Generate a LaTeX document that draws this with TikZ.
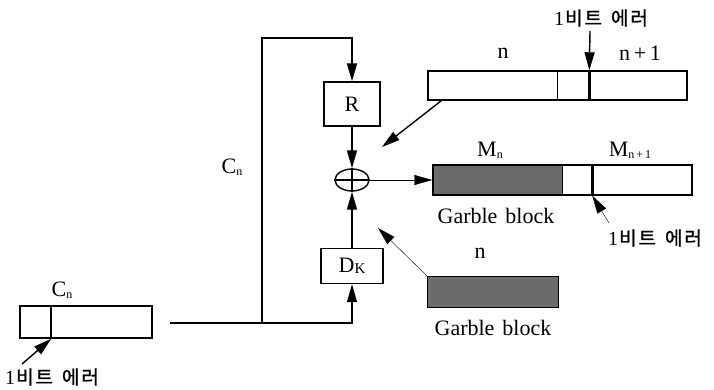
\documentclass[tikz,border=0pt]{standalone}
\usepackage{fontspec}
\setmainfont{Liberation Serif}
\newfontfamily\kr[LetterSpace=10,FakeBold=1.2]{Noto Sans CJK KR}
\usetikzlibrary{arrows.meta,shapes.geometric,backgrounds}
\newcommand\sbn[1]{\raisebox{-2pt}{\fontsize{12}{13}\selectfont #1}}
\newcommand\errtxt{{\rmfamily\fontsize{20}{22}\selectfont 1}\kern1pt 비트\hspace{9pt}에러}
\begin{document}
\begin{tikzpicture}[x=1pt,y=-1pt,
  line width=1.4pt,
  arr/.style={-{Triangle[length=18pt,width=10pt]}},
  box/.style={draw,rectangle,inner sep=0pt,font=\fontsize{22}{26}\selectfont},
  lbl/.style={inner sep=0pt,font=\fontsize{22}{26}\selectfont},
  krl/.style={inner sep=0pt,font=\fontsize{19}{22}\kr},
  garble/.style={fill=black!58},
  errline/.style={line width=2.8pt}
]
\useasboundingbox (0,0) rectangle (714,390);

% --- received ciphertext block C_n (bottom left)
\node[box,minimum width=132pt,minimum height=32pt] (cn) at (86,322) {};
\draw[line width=1.8pt] ([xshift=32pt]cn.north west) -- ([xshift=32pt]cn.south west);
\node[lbl] (cnl) at (62,290) {C\sbn{n}};
\node[krl] (e1) at (52,377) {\errtxt};
\coordinate (e1t) at (22,364);
\draw[arr] (e1t) -- ([xshift=32pt]cn.south west);

% --- feedback wiring
\coordinate (ls) at (170,323);
\coordinate (sp) at (262,323);
\coordinate (tp) at (262,38);
\node[lbl] (cnv) at (232,167) {C\sbn{n}};

\node[box,minimum width=56pt,minimum height=44pt] (r) at (352,104) {R};
\node[box,minimum width=62pt,minimum height=35pt] (dk) at (352,266) {D\raisebox{-1pt}{\fontsize{15}{17}\selectfont K}};
\node[draw,ellipse,minimum width=34pt,minimum height=22pt,inner sep=0pt] (xo) at (352,180) {};
\draw (xo.north) -- (xo.south) (xo.west) -- (xo.east);

\draw[arr] (ls) -| (dk.south);
\draw[arr] (sp) -- (tp) -| (r.north);
\draw[arr] (r.south) -- (xo.north);
\draw[arr] (dk.north) -- (xo.south);

% --- top block (n, n+1)
\node[box,minimum width=259pt,minimum height=29pt] (tb) at (557.5,85.5) {};
\draw ([xshift=130pt]tb.north west) -- ([xshift=130pt]tb.south west);
\draw[errline] ([xshift=162pt]tb.north west) -- ([xshift=162pt]tb.south west);
\node[lbl] (tbn) at (503,53) {n};
\node[lbl] (tbn1) at (640,53) {n\,+\,1};
\node[krl] (e3) at (601,18) {\errtxt};
\coordinate (e3t) at (590,31);
\draw[arr] (e3t) -- ([xshift=162pt]tb.north west);
\coordinate (xa) at (382,147);
\draw[arr] ([xshift=14pt]tb.south west) -- (xa);

% --- output block M_n, M_{n+1}
\node[box,minimum width=259pt,minimum height=30pt] (mn) at (562.5,180) {};
\begin{pgfonlayer}{background}
\fill[garble] (mn.north west) rectangle ([xshift=130pt]mn.south west);
\end{pgfonlayer}
\draw ([xshift=130pt]mn.north west) -- ([xshift=130pt]mn.south west);
\draw[errline] ([xshift=160pt]mn.north west) -- ([xshift=160pt]mn.south west);
\node[lbl] (mnl) at (490,150) {M\sbn{n}};
\node[lbl] (mn1l) at (630,150) {M\sbn{n\,+\,1}};
\node[lbl] (g1) at (496,216) {Garble\hspace{8pt}block};
\node[krl] (e2) at (655,238) {\errtxt};
\coordinate (e2t) at (609,223);
\draw[arr] (e2t) -- ([xshift=160pt]mn.south west);
\draw[arr] (xo.east) -- (mn.west);

% --- lower garble block
\node[box,garble,minimum width=131pt,minimum height=31pt] (gb) at (492.5,291.5) {};
\node[lbl] (gbn) at (480,253) {n};
\node[lbl] (g2) at (493,328) {Garble\hspace{8pt}block};
\coordinate (xb) at (378,228);
\draw[arr] (gb.north west) -- (xb);
\end{tikzpicture}
\end{document}
